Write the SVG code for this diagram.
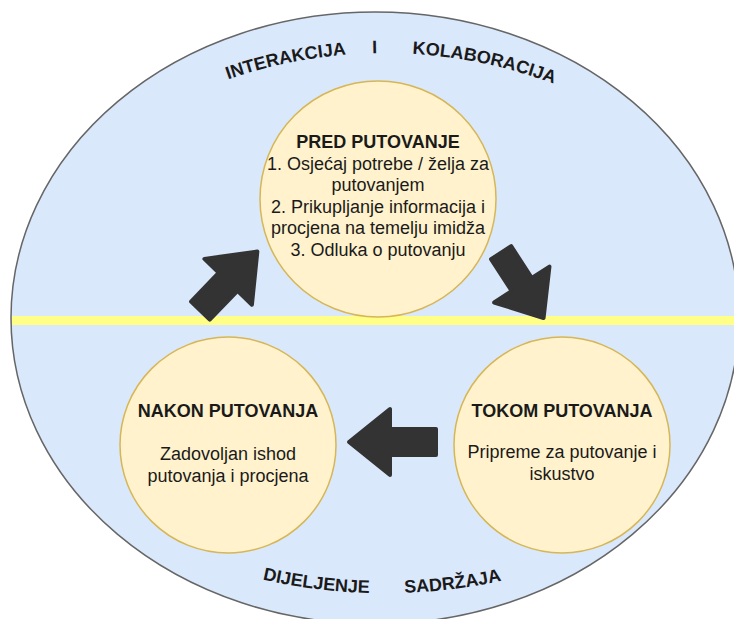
<svg xmlns="http://www.w3.org/2000/svg" width="734" height="619" viewBox="0 0 734 619">
  <style>
    .node { fill: #fff2cc; stroke: #d6b656; stroke-width: 1.5; }
    .t { font-family: "Liberation Sans", Arial, Helvetica, sans-serif; font-size: 18px; fill: #1a1a1a; text-anchor: middle; }
    .b { font-weight: bold; }
    .arc { font-family: "Liberation Sans", Arial, Helvetica, sans-serif; font-size: 18px; font-weight: bold; fill: #1a1a1a; }
    .arrow { fill: #333333; stroke: #333333; stroke-width: 4; stroke-linejoin: round; }
  </style>
  <defs>
    <path id="topArc" d="M 180 99 A 480 480 0 0 1 600 104" fill="none"/>
    <path id="botArc" d="M 220 568 A 553 553 0 0 0 550 568" fill="none"/>
  </defs>
  <rect width="734" height="619" fill="#ffffff"/>
  <g id="background">
    <ellipse cx="375" cy="318" rx="364" ry="306" fill="#dae8fc" stroke="#666666" stroke-width="1.5"/>
    <rect x="12" y="316" width="722" height="9" fill="#ffff88"/>
  </g>
  <g id="labels">
    <text class="arc"><textPath href="#topArc" startOffset="52">INTERAKCIJA</textPath></text>
    <text class="arc"><textPath href="#topArc" startOffset="199">I</textPath></text>
    <text class="arc"><textPath href="#topArc" startOffset="239">KOLABORACIJA</textPath></text>
    <text class="arc"><textPath href="#botArc" startOffset="44">DIJELJENJE</textPath></text>
    <text class="arc"><textPath href="#botArc" startOffset="187">SADRŽAJA</textPath></text>
  </g>
  <g id="node-pred">
    <circle class="node" cx="378" cy="199" r="118"/>
    <text class="t b" x="378" y="148">PRED PUTOVANJE</text>
    <text class="t" x="378" y="169.6">1. Osjećaj potrebe / želja za</text>
    <text class="t" x="378" y="191.2">putovanjem</text>
    <text class="t" x="378" y="212.8">2. Prikupljanje informacija i</text>
    <text class="t" x="378" y="234.4">procjena na temelju imidža</text>
    <text class="t" x="378" y="256">3. Odluka o putovanju</text>
  </g>
  <g id="node-nakon">
    <circle class="node" cx="228" cy="445" r="108"/>
    <text class="t b" x="228" y="417">NAKON PUTOVANJA</text>
    <text class="t" x="228" y="460">Zadovoljan ishod</text>
    <text class="t" x="228" y="481.6">putovanja i procjena</text>
  </g>
  <g id="node-tokom">
    <circle class="node" cx="562" cy="445" r="108"/>
    <text class="t b" x="562" y="417">TOKOM PUTOVANJA</text>
    <text class="t" x="562" y="458">Pripreme za putovanje i</text>
    <text class="t" x="562" y="479.6">iskustvo</text>
  </g>
  <g id="connectors">
    <polygon class="arrow" transform="translate(199,312) rotate(-46)" points="2,-13 42,-13 42,-33 84,0 42,33 42,13 2,13"/>
    <polygon class="arrow" transform="translate(500,251) rotate(57)" points="2,-12 40,-12 40,-33 80,0 40,33 40,12 2,12"/>
    <polygon class="arrow" transform="translate(438,442) rotate(180)" points="2,-13 48,-13 48,-33 89,0 48,33 48,13 2,13"/>
  </g>
</svg>
